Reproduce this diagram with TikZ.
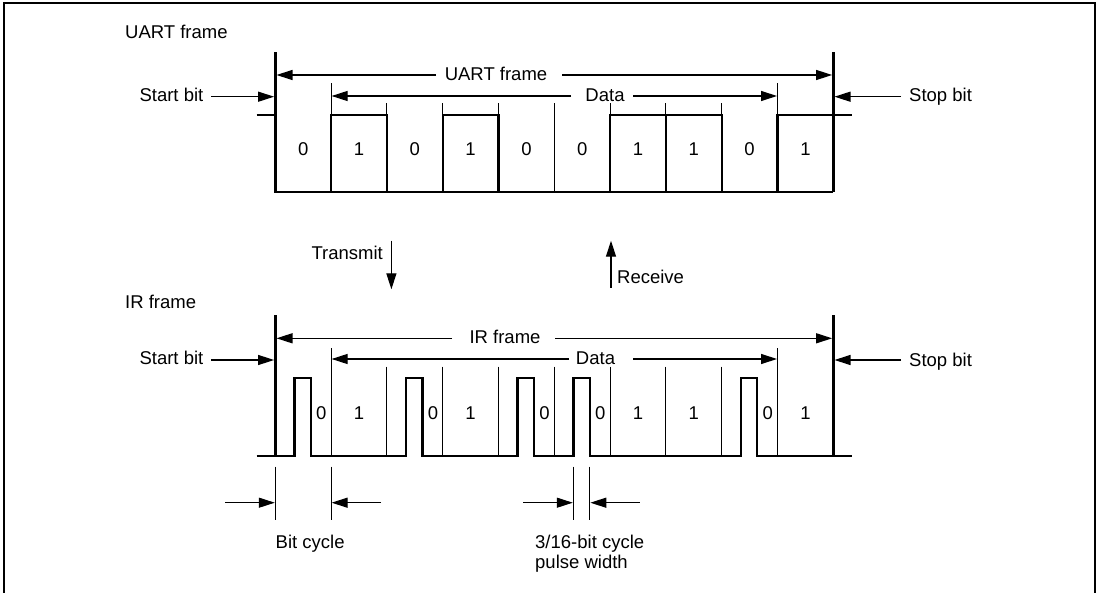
\documentclass[tikz,border=0pt]{standalone}
\usepackage{fontspec}
\setmainfont{Liberation Sans}
\usetikzlibrary{arrows.meta}
\newcommand{\lblfont}{\fontsize{18.5}{22}\selectfont}
\begin{document}
\begin{tikzpicture}[x=1pt,y=-1pt,
  thickln/.style={line width=2.4pt},
  thinln/.style={line width=1pt},
  arr/.style={line width=1.2pt,-{Triangle[length=16pt,width=10pt]}},
  lab/.style={inner sep=0pt,font=\lblfont,text height=13.3pt,text depth=0pt},
]
\useasboundingbox (0,0) rectangle (1099,593);
% border
\draw[line width=2.4pt] (3.8,593) -- (3.8,3.2) -- (1094.7,3.2) -- (1094.7,593);

% ---------------- UART frame ----------------
\node[lab,anchor=west] (uarttitle) at (125,32) {UART frame};
% thin bit boundaries
\foreach \x in {386.9,442.7,498.5,554.3,610.1,665.9,721.7}
  \draw[thinln] (\x,103.3) -- (\x,192.3);
\draw[thinln] (331.1,83.5) -- (331.1,192.3);
\draw[thinln] (777.5,83.5) -- (777.5,192.3);
% thick waveform
\draw[thickln] (256.7,115.3) -- (275.3,115.3);
\draw[thickln] (275.3,52.3) -- (275.3,192.3) -- (833.3,192.3);
\draw[thickln] (833.3,52.3) -- (833.3,192.3);
\draw[thickln] (331.1,192.3) |- (386.9,115.3) -- (386.9,192.3);
\draw[thickln] (442.7,192.3) |- (498.5,115.3) -- (498.5,192.3);
\draw[thickln] (610.1,192.3) |- (721.7,115.3) -- (721.7,192.3);
\draw[thickln] (665.9,115.3) -- (665.9,192.3);
\draw[thickln] (777.5,192.3) |- (852.3,115.3);
% bit labels
\foreach \x/\b in {303.2/0,359.0/1,414.8/0,470.6/1,526.4/0,582.2/0,638.0/1,693.8/1,749.6/0,805.4/1}
  \node[lab] at (\x,149) {\b};
% frame arrow
\node[lab] (uframe) at (496,74) {UART frame};
\coordinate (ufL) at (436,75);
\coordinate (ufR) at (562,75);
\coordinate (ufS) at (276.5,75);
\coordinate (ufE) at (832.1,75);
\draw[arr] (ufL) -- (ufS);
\draw[arr] (ufR) -- (ufE);
% data arrow
\node[lab] (udata) at (605,95) {Data};
\coordinate (udL) at (571,96);
\coordinate (udR) at (633,96);
\coordinate (udS) at (331.6,96);
\coordinate (udE) at (777,96);
\draw[arr] (udL) -- (udS);
\draw[arr] (udR) -- (udE);
% start / stop bit
\node[lab,anchor=east] (ustart) at (203.5,94.5) {Start bit};
\coordinate (usA) at (211,96.7);
\coordinate (usB) at (274.1,96.7);
\draw[arr] (usA) -- (usB);
\node[lab,anchor=west] (ustop) at (909,94.5) {Stop bit};
\coordinate (upA) at (901,96.7);
\coordinate (upB) at (834.5,96.7);
\draw[arr] (upA) -- (upB);

% ---------------- Transmit / Receive ----------------
\node[lab,anchor=east] (tx) at (383,253) {Transmit};
\coordinate (txA) at (391.4,240.7);
\coordinate (txB) at (391.4,289.3);
\draw[arr] (txA) -- (txB);
\node[lab,anchor=west] (rx) at (617,276.7) {Receive};
\coordinate (rxA) at (611,287.7);
\coordinate (rxB) at (611,240.7);
\draw[arr] (rxA) -- (rxB);

% ---------------- IR frame ----------------
\node[lab,anchor=west] (irtitle) at (125,301.7) {IR frame};
\foreach \x in {386.9,442.7,498.5,554.3,610.1,665.9,721.7}
  \draw[thinln] (\x,366.7) -- (\x,456);
\draw[thinln] (331.1,348) -- (331.1,456);
\draw[thinln] (777.5,348) -- (777.5,456);
\draw[thickln] (275.3,315) -- (275.3,456);
\draw[thickln] (833.3,315) -- (833.3,456);
\draw[thickln] (256.7,456) -- (294.3,456) |- (310.8,377.7) -- (310.8,456)
  -- (405.9,456) |- (422.4,377.7) -- (422.4,456)
  -- (517.5,456) |- (534,377.7) -- (534,456)
  -- (573.3,456) |- (589.8,377.7) -- (589.8,456)
  -- (740.7,456) |- (757.2,377.7) -- (757.2,456) -- (852.3,456);
\foreach \x/\b in {321.3/0,359.0/1,432.9/0,470.6/1,544.5/0,600.3/0,638.0/1,693.8/1,767.7/0,805.4/1}
  \node[lab] at (\x,412.7) {\b};
% frame arrow
\node[lab] (irframe) at (505,336.5) {IR frame};
\coordinate (ifL) at (452,338.3);
\coordinate (ifR) at (555,338.3);
\coordinate (ifS) at (276.5,338.3);
\coordinate (ifE) at (832.1,338.3);
\draw[arr] (ifL) -- (ifS);
\draw[arr] (ifR) -- (ifE);
% data arrow
\node[lab] (irdata) at (595.5,357.5) {Data};
\coordinate (idL) at (569,359);
\coordinate (idR) at (633,359);
\coordinate (idS) at (331.6,359);
\coordinate (idE) at (777,359);
\draw[arr] (idL) -- (idS);
\draw[arr] (idR) -- (idE);
% start / stop bit
\node[lab,anchor=east] (irstart) at (203.5,358) {Start bit};
\coordinate (isA) at (211,360);
\coordinate (isB) at (274.1,360);
\draw[arr] (isA) -- (isB);
\node[lab,anchor=west] (irstop) at (909,360) {Stop bit};
\coordinate (ipA) at (901,360);
\coordinate (ipB) at (834.5,360);
\draw[arr] (ipA) -- (ipB);

% ---------------- dimensions ----------------
\draw[thinln] (275.3,466.7) -- (275.3,520);
\draw[thinln] (331.1,466.7) -- (331.1,520);
\coordinate (bcA) at (225.3,502.7);
\coordinate (bcB) at (274.8,502.7);
\coordinate (bcC) at (381,502.7);
\coordinate (bcD) at (331.6,502.7);
\draw[arr] (bcA) -- (bcB);
\draw[arr] (bcC) -- (bcD);
\node[lab,anchor=base west] (bitcyc) at (275.5,548) {Bit cycle};

\draw[thinln] (573.3,466.7) -- (573.3,520);
\draw[thinln] (589.8,466.7) -- (589.8,520);
\coordinate (pwA) at (523,502.7);
\coordinate (pwB) at (572.8,502.7);
\coordinate (pwC) at (639.8,502.7);
\coordinate (pwD) at (590.3,502.7);
\draw[arr] (pwA) -- (pwB);
\draw[arr] (pwC) -- (pwD);
\node[lab,anchor=base west] (pw1) at (535,548.3) {3/16-bit cycle};
\node[lab,anchor=base west] (pw2) at (535,568.3) {pulse width};
\end{tikzpicture}
\end{document}
